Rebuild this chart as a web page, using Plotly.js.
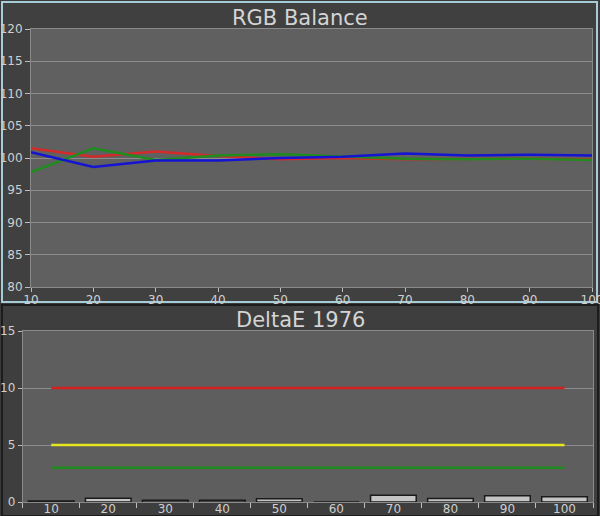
<!DOCTYPE html>
<html><head><meta charset="utf-8">
<script src="https://cdn.plot.ly/plotly-3.0.1.min.js"></script>
<style>html,body{margin:0;padding:0;background:#3a3a3a;}#chart{width:600px;height:516px;}</style>
</head><body><div id="chart"></div>
<script>
// Top chart: RGB Balance
const levels = [10, 20, 30, 40, 50, 60, 70, 80, 90, 100];
const redBalance   = [101.5, 100.2, 101.0, 100.3, 99.8, 100.0, 99.8, 99.9, 99.9, 99.8];
const greenBalance = [97.8, 101.5, 99.7, 100.4, 100.6, 100.2, 99.9, 99.8, 99.9, 99.7];
const blueBalance  = [100.9, 98.6, 99.6, 99.6, 100.0, 100.2, 100.7, 100.4, 100.5, 100.4];
const rgbYTicks = [80, 85, 90, 95, 100, 105, 110, 115, 120];

// Bottom chart: DeltaE 1976
const deCategories = ['10', '20', '30', '40', '50', '60', '70', '80', '90', '100'];
const deltaE = [0.08, 0.32, 0.15, 0.15, 0.28, 0.0, 0.6, 0.3, 0.55, 0.45];
const thresholdCats = ['10', '100'];
const thresholdRed = [10, 10];
const thresholdYellow = [5, 5];
const thresholdGreen = [3, 3];
const deYTicks = [0, 5, 10, 15];

const fam = 'DejaVu Sans, Verdana, sans-serif';
const tickFont = {family: fam, size: 12, color: '#cfcfcf'};

const traces = [
  {x: levels, y: redBalance, type: 'scatter', mode: 'lines', line: {color: '#d42a2a', width: 2.5}, xaxis: 'x', yaxis: 'y'},
  {x: levels, y: greenBalance, type: 'scatter', mode: 'lines', line: {color: '#1e8c1e', width: 2.5}, xaxis: 'x', yaxis: 'y'},
  {x: levels, y: blueBalance, type: 'scatter', mode: 'lines', line: {color: '#1414d2', width: 2.5}, xaxis: 'x', yaxis: 'y'},
  {x: deCategories, y: deltaE, type: 'bar', width: 0.8, marker: {color: '#c4c4c4', line: {color: '#1a1a1a', width: 1.5}}, xaxis: 'x2', yaxis: 'y2'},
  {x: thresholdCats, y: thresholdRed, type: 'scatter', mode: 'lines', line: {color: '#d42020', width: 2.5}, xaxis: 'x2', yaxis: 'y2'},
  {x: thresholdCats, y: thresholdYellow, type: 'scatter', mode: 'lines', line: {color: '#e6e61e', width: 2.5}, xaxis: 'x2', yaxis: 'y2'},
  {x: thresholdCats, y: thresholdGreen, type: 'scatter', mode: 'lines', line: {color: '#1e8a1e', width: 2.5}, xaxis: 'x2', yaxis: 'y2'}
];

const topX = [31/600, 592/600], topY = [1 - 287/516, 1 - 29/516];
const botX = [22.7/600, 593/600], botY = [1 - 502/516, 1 - 331/516];

const layout = {
  width: 600, height: 516,
  margin: {l: 0, r: 0, t: 0, b: 0},
  paper_bgcolor: '#3a3a3a',
  plot_bgcolor: '#606060',
  showlegend: false,
  xaxis: {
    domain: topX, anchor: 'y', range: [10, 100],
    tickvals: levels, ticks: 'outside', ticklen: 4, tickcolor: '#bdbdbd',
    tickfont: tickFont, showgrid: false, zeroline: false, ticklabeloverflow: 'allow',
    ticklabelstandoff: -2,
    showline: true, linecolor: '#8a8a8a', mirror: true, fixedrange: true
  },
  yaxis: {
    domain: topY, anchor: 'x', range: [80, 120],
    tickvals: rgbYTicks, ticks: 'outside', ticklen: 5, tickcolor: '#bdbdbd',
    tickfont: tickFont, showgrid: true, gridcolor: '#8c8c8c', gridwidth: 1, zeroline: false,
    showline: true, linecolor: '#8a8a8a', mirror: true, ticklabelstandoff: 0, fixedrange: true
  },
  xaxis2: {
    domain: botX, anchor: 'y2', type: 'category',
    categoryorder: 'array', categoryarray: deCategories,
    ticks: 'outside', tickson: 'boundaries', ticklen: 5, tickcolor: '#bdbdbd',
    tickfont: tickFont, showgrid: false, zeroline: false, ticklabeloverflow: 'allow',
    ticklabelstandoff: -4,
    showline: true, linecolor: '#8a8a8a', mirror: true, fixedrange: true
  },
  yaxis2: {
    domain: botY, anchor: 'x2', range: [0, 15],
    tickvals: deYTicks, ticks: 'outside', ticklen: 4, tickcolor: '#bdbdbd',
    tickfont: tickFont, showgrid: true, gridcolor: '#8c8c8c', gridwidth: 1, zeroline: false,
    showline: true, linecolor: '#8a8a8a', mirror: true, fixedrange: true
  },
  shapes: [
    {type: 'rect', xref: 'paper', yref: 'paper', layer: 'below',
     x0: 2/600, x1: 597/600, y0: 1 - 302/516, y1: 1 - 2/516,
     fillcolor: '#404040', line: {color: '#a6ccd8', width: 2}},
    {type: 'rect', xref: 'paper', yref: 'paper', layer: 'below',
     x0: 2/600, x1: 598/600, y0: 0, y1: 1 - 305/516,
     fillcolor: '#3e3e3e', line: {color: '#1c1c1c', width: 2}},
    {type: 'rect', xref: 'paper', yref: 'paper', layer: 'below',
     x0: topX[0], x1: topX[1], y0: topY[0], y1: topY[1],
     fillcolor: '#606060', line: {width: 0}},
    {type: 'rect', xref: 'paper', yref: 'paper', layer: 'below',
     x0: botX[0], x1: botX[1], y0: botY[0], y1: botY[1],
     fillcolor: '#5e5e5e', line: {width: 0}}
  ],
  annotations: [
    {text: 'RGB Balance', xref: 'paper', yref: 'paper', x: 0.5, y: 1 - 18/516,
     xanchor: 'center', yanchor: 'middle', showarrow: false,
     font: {family: fam, size: 21, color: '#d4d4d4'}},
    {text: 'DeltaE 1976', xref: 'paper', yref: 'paper', x: 0.5, y: 1 - 320/516,
     xanchor: 'center', yanchor: 'middle', showarrow: false,
     font: {family: fam, size: 21, color: '#d4d4d4'}}
  ]
};

Plotly.newPlot('chart', traces, layout, {staticPlot: true, displayModeBar: false});
</script></body></html>
